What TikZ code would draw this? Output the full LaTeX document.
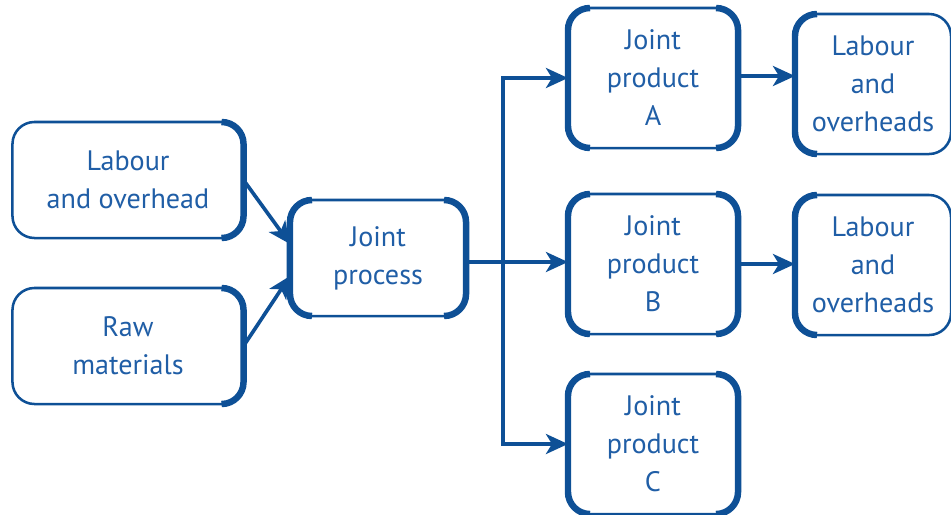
\documentclass[tikz,border=0pt]{standalone}
\usepackage{fontspec}
\setmainfont{PT Sans}
\usetikzlibrary{arrows.meta}
\definecolor{boxblue}{RGB}{14,80,150}
\definecolor{textblue}{RGB}{32,94,166}
\begin{document}
\begin{tikzpicture}[x=0.025cm,y=-0.025cm,
		box/.style={draw=boxblue,line width=1.8pt,rounded corners=0.55cm,outer sep=0pt,inner sep=0pt,
			align=center,text=textblue,font=\fontsize{20}{27}\selectfont},
		side/.style={draw=boxblue,line width=4.6pt,rounded corners=0.55cm},
		arr/.style={draw=boxblue,line width=2.6pt,-{Stealth[length=0.55cm,width=0.5cm,inset=0.15cm]}}]
		\useasboundingbox (0,0) rectangle (951,514);
		\node[box,minimum width=5.775cm,minimum height=2.9cm] (lo) at (128,180) {Labour\\and overhead};
		\node[box,minimum width=5.775cm,minimum height=2.9cm] (rm) at (128,346) {Raw\\materials};
		\node[box,minimum width=4.4cm,minimum height=2.9cm] (jp) at (378,258) {Joint\\process};
		\node[box,minimum width=4.25cm,minimum height=3.5cm] (ja) at (653,78) {Joint\\product\\A};
		\node[box,minimum width=4.25cm,minimum height=3.5cm] (jb) at (653,264) {Joint\\product\\B};
		\node[box,minimum width=4.25cm,minimum height=3.5cm] (jc) at (653,444) {Joint\\product\\C};
		\node[box,minimum width=3.9cm,minimum height=3.5cm] (la) at (873,84) {Labour\\and\\overheads};
		\node[box,minimum width=3.9cm,minimum height=3.5cm] (lb) at (873,265) {Labour\\and\\overheads};
		\foreach \b in {jp,ja,jb,jc,la,lb}
		\draw[side] ([xshift=0.55cm]\b.north west) -- (\b.north west) -- (\b.south west) -- ([xshift=0.55cm]\b.south west);
		\foreach \b in {lo,rm,jp,ja,jb,jc}
		\draw[side] ([xshift=-0.55cm]\b.north east) -- (\b.north east) -- (\b.south east) -- ([xshift=-0.55cm]\b.south east);
		\draw[arr] (lo.east) -- ([yshift=0.35cm]jp.west);
		\draw[arr] (rm.east) -- ([yshift=-0.45cm]jp.west);
		\coordinate (br) at (503,262);
		\draw[arr] ([yshift=-0.1cm]jp.east) -- (br) -- (br -| jb.west);
		\draw[arr] (br) |- (ja.west);
		\draw[arr] (br) |- (jc.west);
		\draw[arr] ([yshift=0.05cm]ja.east) -- ([yshift=0.05cm]ja.east -| la.west);
		\draw[arr] (jb.east) -- (jb.east -| lb.west);
\end{tikzpicture}
\end{document}
